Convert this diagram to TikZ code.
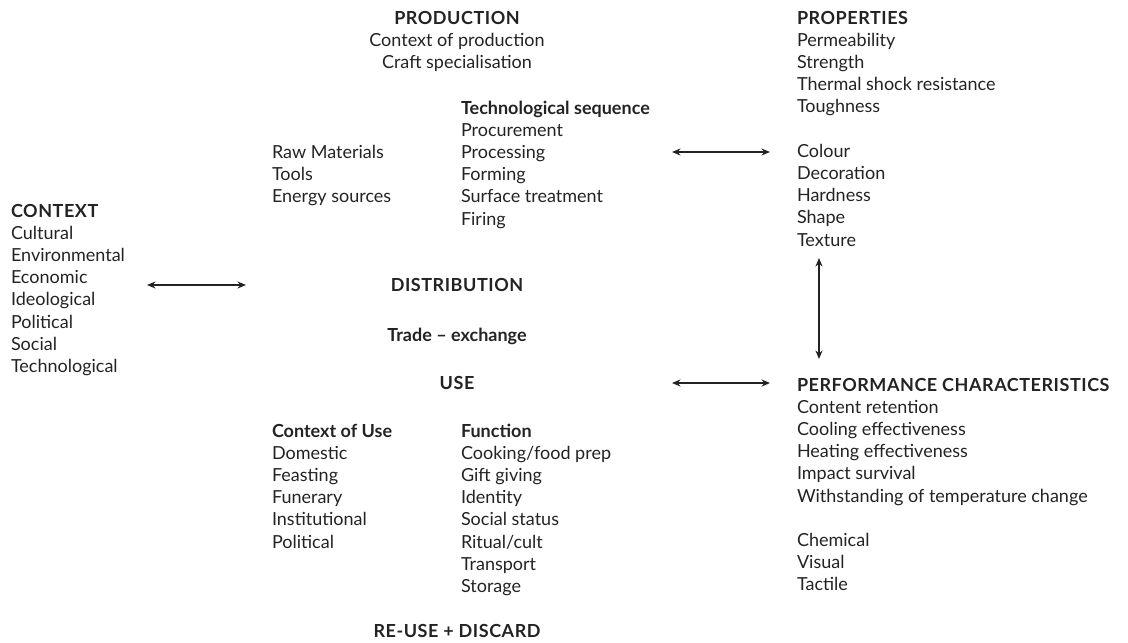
\documentclass[tikz,border=0pt]{standalone}
\usepackage{fontspec}
\setmainfont{Lato}
\usetikzlibrary{arrows.meta}
\definecolor{ink}{RGB}{35,35,35}
\newcommand{\hd}[1]{{\bfseries\addfontfeature{LetterSpace=3}#1}}
\tikzset{
  blk/.style={inner sep=0pt, outer sep=0pt, text=ink, align=left, anchor=base west,
    font=\fontsize{18}{22.2}\selectfont},
  cblk/.style={blk, align=center, anchor=base},
  arr/.style={{Stealth[length=8.5pt,width=7pt]}-{Stealth[length=8.5pt,width=7pt]}, line width=1.6pt, draw=ink}
}
\begin{document}
\begin{tikzpicture}[x=1pt,y=-1pt]
\useasboundingbox (0,0) rectangle (1128,643);
% production (anchor = baseline of last line)
\node[cblk] (prod) at (457,68.4) {\hd{PRODUCTION}\\Context of production\\Craft specialisation};
\node[blk] (seq) at (461,225) {\textbf{Technological sequence}\\Procurement\\Processing\\Forming\\Surface treatment\\Firing};
\node[blk] (raw) at (272,202.4) {Raw Materials\\Tools\\Energy sources};
% properties
\node[blk] (prop) at (797,246) {\hd{PROPERTIES}\\Permeability\\Strength\\Thermal shock resistance\\Toughness\\[22.2pt]Colour\\Decoration\\Hardness\\Shape\\Texture};
% context
\node[blk] (ctx) at (11,372.4) {\hd{CONTEXT}\\Cultural\\Environmental\\Economic\\Ideological\\Political\\Social\\Technological};
% middle
\node[cblk] (dist) at (457,291) {\hd{DISTRIBUTION}};
\node[cblk] (trade) at (457,341) {\textbf{Trade -- exchange}};
\node[cblk] (use) at (457,389) {\hd{USE}};
\node[blk] (cuse) at (272,548) {\textbf{Context of Use}\\Domestic\\Feasting\\Funerary\\Institutional\\Political};
\node[blk] (func) at (461,592.4) {\textbf{Function}\\Cooking/food prep\\Gift giving\\Identity\\Social status\\Ritual/cult\\Transport\\Storage};
\node[cblk] (reuse) at (457,637) {\hd{RE-USE + DISCARD}};
% performance
\node[blk] (perf) at (797,590.8) {\hd{PERFORMANCE CHARACTERISTICS}\\Content retention\\Cooling effectiveness\\Heating effectiveness\\Impact survival\\Withstanding of temperature change\\[22.2pt]Chemical\\Visual\\Tactile};
% arrows
\coordinate (a1) at (147,285); \coordinate (a2) at (246,285);
\coordinate (b1) at (672,152); \coordinate (b2) at (770,152);
\coordinate (c1) at (672,383); \coordinate (c2) at (770,383);
\coordinate (d1) at (819,258); \coordinate (d2) at (819,359);
\draw[arr] (a1) -- (a2);
\draw[arr] (b1) -- (b2);
\draw[arr] (c1) -- (c2);
\draw[arr] (d1) -- (d2);
\end{tikzpicture}
\end{document}
